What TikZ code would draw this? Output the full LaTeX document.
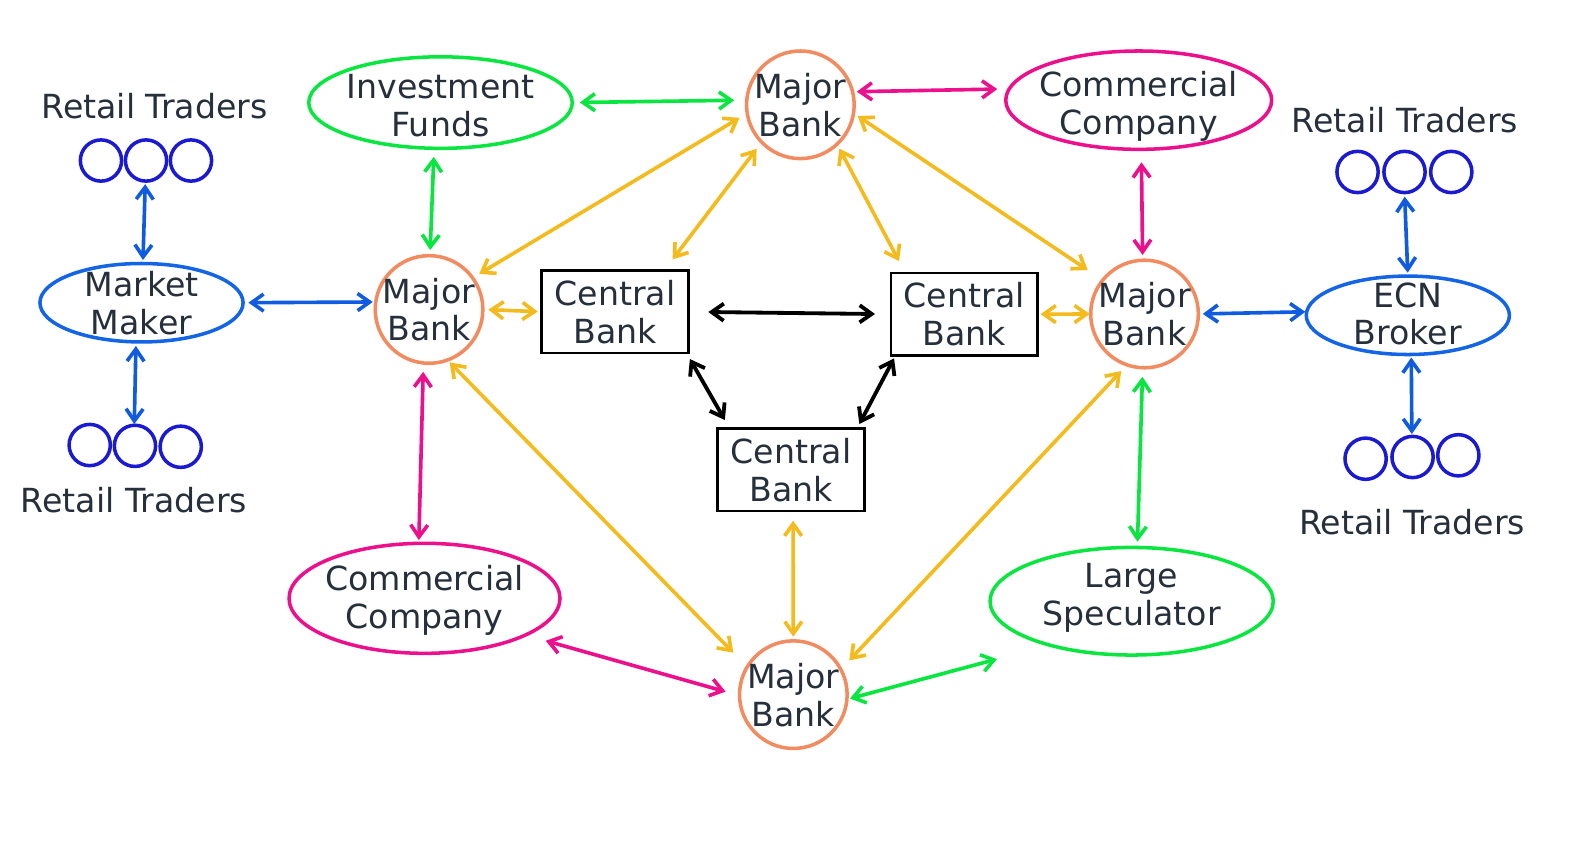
\documentclass[tikz,border=0pt]{standalone}
\usepackage{fontspec}
\setmainfont{DejaVu Sans}
\usetikzlibrary{shapes.geometric,arrows.meta}
\definecolor{txtc}{RGB}{38,48,60}
\definecolor{bankc}{RGB}{242,139,96}
\definecolor{grn}{RGB}{10,230,64}
\definecolor{pnk}{RGB}{236,16,140}
\definecolor{ylw}{RGB}{243,187,30}
\definecolor{blu}{RGB}{20,100,230}
\definecolor{blua}{RGB}{16,92,224}
\definecolor{rtc}{RGB}{26,26,210}
\tikzset{
  txt/.style={font=\fontsize{33}{37.5}\selectfont, text=txtc, align=center, inner sep=0pt, text depth=0pt},
  bank/.style={circle, draw=bankc, line width=3.5pt, minimum size=107pt, inner sep=0pt, outer sep=0pt},
  ell/.style 2 args={ellipse, line width=3.5pt, inner sep=0pt, outer sep=0pt, minimum width=#1, minimum height=#2},
  cbank/.style={rectangle, draw=black, line width=2.5pt, minimum width=146pt, minimum height=82pt, inner sep=0pt, outer sep=0pt},
  rcirc/.style={circle, draw=rtc, line width=3.5pt, minimum size=41pt, inner sep=0pt, outer sep=0pt},
  link/.style={<->, line width=3.6pt},
  gp/.style 2 args={shorten <=#1, shorten >=#2},
  >={Straight Barb[length=12pt,width=17pt]}
}
\begin{document}
\begin{tikzpicture}[x=1pt,y=-1pt]
\useasboundingbox[fill=white] (0,0) rectangle (1568,858);

% Major banks
\node[bank, label={[txt]center:{Major\\Bank}}] (mbt) at (795.8,104.2) {};
\node[bank, label={[txt]center:{Major\\Bank}}] (mbl) at (426.6,307.7) {};
\node[bank, label={[txt]center:{Major\\Bank}}] (mbr) at (1138,312.2) {};
\node[bank, label={[txt]center:{Major\\Bank}}] (mbb) at (788.8,690.7) {};

% Central banks
\node[cbank, label={[txt]center:{Central\\Bank}}] (cbl) at (611.5,310) {};
\node[cbank, label={[txt]center:{Central\\Bank}}] (cbr) at (958.7,312.4) {};
\node[cbank, label={[txt]center:{Central\\Bank}}] (cbb) at (786.4,467.2) {};

% Ellipses
\node[ell={262pt}{91pt}, draw=grn, label={[txt,yshift=-3pt]center:{Investment\\Funds}}] (if) at (438,102) {};
\node[ell={264.4pt}{97.8pt}, draw=pnk, label={[txt,yshift=-3pt]center:{Commercial\\Company}}] (cct) at (1132.2,99.6) {};
\node[ell={202pt}{78pt}, draw=blu, label={[txt]center:{Market\\Maker}}] (mm) at (140.7,301) {};
\node[ell={202pt}{78pt}, draw=blu, label={[txt,yshift=1.5pt]center:{ECN\\Broker}}] (ecn) at (1399.8,313.5) {};
\node[ell={269.4pt}{109.4pt}, draw=pnk, label={[txt,yshift=1.5pt]center:{Commercial\\Company}}] (ccb) at (422.1,594.9) {};
\node[ell={281.6pt}{107pt}, draw=grn, label={[txt,yshift=7pt]center:{Large\\Speculator}}] (ls) at (1125.2,597.8) {};

% Retail traders
\node[rcirc] (rt1a) at (100.4,159.6) {};
\node[rcirc] (rt1b) at (145.2,159.6) {};
\node[rcirc] (rt1c) at (189.9,159.6) {};
\node[txt] (rt1t) at (153.6,105.4) {Retail Traders};

\node[rcirc] (rt2a) at (89.2,442.5) {};
\node[rcirc] (rt2b) at (134.2,443.3) {};
\node[rcirc] (rt2c) at (179.7,444.2) {};
\node[txt] (rt2t) at (133.1,497.2) {Retail Traders};

\node[rcirc] (rt3a) at (1349.8,171) {};
\node[rcirc] (rt3b) at (1396.5,171) {};
\node[rcirc] (rt3c) at (1443,171) {};
\node[txt] (rt3t) at (1397,119) {Retail Traders};

\node[rcirc] (rt4a) at (1357.8,456.1) {};
\node[rcirc] (rt4b) at (1404.5,454.4) {};
\node[rcirc] (rt4c) at (1450,452.7) {};
\node[txt] (rt4t) at (1404,518.5) {Retail Traders};

% Blue links
\draw[link, blua, gp={3pt}{3.5pt}] (rt1b.-92) -- (mm.88);
\draw[link, blua, gp={4.1pt}{1.2pt}] (mm.-98.6) -- (rt2b.92.6);
\draw[link, blua, gp={5.3pt}{3pt}] (mm.0) -- (mbl.172.2);
\draw[link, blua, gp={4.4pt}{1.3pt}] (mbr.0.7) -- (ecn.178.3);
\draw[link, blua, gp={4.1pt}{3.4pt}] (rt3b.-90) -- (ecn.90);
\draw[link, blua, gp={3pt}{2.4pt}] (ecn.-85) -- (rt4b.92);

% Green links
\draw[link, grn, gp={8.5pt}{5.6pt}] (if.-98.6) -- (mbl.89);
\draw[link, grn, gp={7.5pt}{12.5pt}] (if.0.8) -- (mbt.175.8);
\draw[link, grn, gp={9pt}{5.8pt}] (mbr.-92.6) -- (ls.84.2);
\draw[link, grn, gp={3.1pt}{54pt}] (mbb.-5.4) -- (ls.-152.1);

% Pink links
\draw[link, pnk, gp={4.2pt}{12pt}] (mbt.14) -- (cct.175.5);
\draw[link, pnk, gp={12.9pt}{5.2pt}] (cct.-87.2) -- (mbr.92.7);
\draw[link, pnk, gp={8.8pt}{3.3pt}] (mbl.-96.7) -- (ccb.96);
\draw[link, pnk, gp={21pt}{14.4pt}] (ccb.-20.5) -- (mbb.181.1);

% Yellow links
\draw[link, ylw, gp={8.9pt}{7.7pt}] (mbt.-171.5) -- (mbl.36.8);
\draw[link, ylw, gp={8.3pt}{13.9pt}] (mbt.-136.8) -- (cbl.40.1);
\draw[link, ylw, gp={5pt}{13.3pt}] (mbt.-47.7) -- (cbr.145.1);
\draw[link, ylw, gp={4.9pt}{17.9pt}] (mbt.-9.1) -- (mbr.141.5);
\draw[link, ylw, gp={5.4pt}{3.9pt}] (mbl.0) -- (cbl.west);
\draw[link, ylw, gp={3pt}{1pt}] (cbr.east) -- (mbr.180);
\draw[link, ylw, gp={3.2pt}{19.8pt}] (mbl.-70) -- (mbb.149.1);
\draw[link, ylw, gp={9.5pt}{4.1pt}] (cbb.-87.3) -- (mbb.90.6);
\draw[link, ylw, gp={8.4pt}{12.3pt}] (mbr.-109.3) -- (mbb.28.2);

% Black links
\draw[link, black, line width=3.8pt, gp={19.8pt}{15.7pt}] (cbl.east) -- (cbr.west);
\draw[link, black, line width=3.8pt, gp={6.9pt}{9.9pt}] (cbl.-30.8) -- (cbb.146.6);
\draw[link, black, line width=3.8pt, gp={3.3pt}{5.2pt}] (cbr.-149.5) -- (cbb.32.1);
\end{tikzpicture}
\end{document}
